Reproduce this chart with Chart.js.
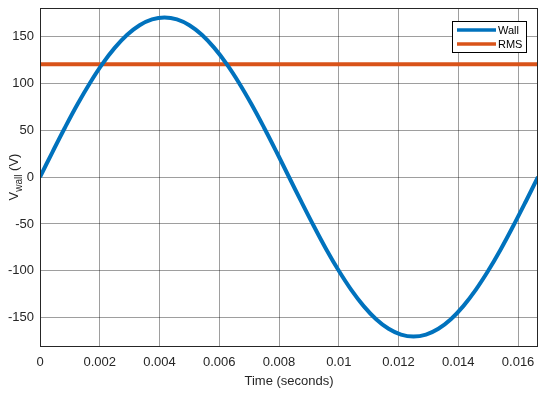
<!DOCTYPE html>
<html>
<head>
<meta charset="utf-8">
<script src="https://cdn.jsdelivr.net/npm/chart.js@4.4.0/dist/chart.umd.min.js"></script>
<style>
  html, body { margin: 0; padding: 0; background: #fff; }
  #wrap { width: 553px; height: 396px; }
</style>
</head>
<body>
<div id="wrap"><canvas id="myChart"></canvas></div>
<script>
// time samples (seconds) and wall voltage
var times = [0, 0.000417, 0.000833, 0.00125, 0.001667, 0.002083, 0.0025, 0.002917, 0.003333, 0.00375,
  0.004167, 0.004583, 0.005, 0.005417, 0.005833, 0.00625, 0.006667, 0.007083, 0.0075, 0.007917,
  0.008333, 0.00875, 0.009167, 0.009583, 0.01, 0.010417, 0.010833, 0.01125, 0.011667, 0.012083,
  0.0125, 0.012917, 0.013333, 0.01375, 0.014167, 0.014583, 0.015, 0.015417, 0.015833, 0.01625, 0.016667];
var wall = [0, 26.6, 52.5, 77.2, 99.9, 120.2, 137.5, 151.5, 161.7, 167.9,
  170, 167.9, 161.7, 151.5, 137.5, 120.2, 99.9, 77.2, 52.5, 26.6,
  0, -26.6, -52.5, -77.2, -99.9, -120.2, -137.5, -151.5, -161.7, -167.9,
  -170, -167.9, -161.7, -151.5, -137.5, -120.2, -99.9, -77.2, -52.5, -26.6, 0];
var rmsTimes = [0, 0.016667];
var rms = [120, 120];

var xTicks = [0, 0.002, 0.004, 0.006, 0.008, 0.01, 0.012, 0.014, 0.016];
var yTicks = [-150, -100, -50, 0, 50, 100, 150];

var blue = '#0072BD';
var orange = '#D95319';
var textColor = '#262626';
var fontFamily = '"Liberation Sans", Arial, Helvetica, sans-serif';

function pts(xs, ys) {
  var out = [];
  for (var i = 0; i < xs.length; i++) out.push({ x: xs[i], y: ys[i] });
  return out;
}

// box around the axes, the legend and the subscripted y label
var extras = {
  id: 'extras',
  afterDraw: function(chart) {
    var ctx = chart.ctx;
    var a = chart.chartArea;
    ctx.save();
    ctx.strokeStyle = textColor;
    ctx.lineWidth = 1;
    ctx.strokeRect(Math.round(a.left) + 0.5, Math.round(a.top) + 0.5,
      Math.round(a.right - a.left) - 1, Math.round(a.bottom - a.top));

    // legend
    var lx = 452, ly = 21, lw = 74, lh = 31;
    ctx.fillStyle = '#fff';
    ctx.fillRect(lx, ly, lw, lh);
    ctx.strokeStyle = '#000';
    ctx.strokeRect(lx + 0.5, ly + 0.5, lw, lh);
    var items = [['Wall', blue, ly + 9], ['RMS', orange, ly + 23]];
    ctx.font = '11px ' + fontFamily;
    ctx.textBaseline = 'middle';
    ctx.textAlign = 'left';
    items.forEach(function(it) {
      ctx.strokeStyle = it[1];
      ctx.lineWidth = 3.5;
      ctx.beginPath();
      ctx.moveTo(lx + 5, it[2]);
      ctx.lineTo(lx + 44, it[2]);
      ctx.stroke();
      ctx.fillStyle = '#000';
      ctx.fillText(it[0], lx + 46, it[2] + 0.5);
    });

    // y axis title: V_wall (V)
    ctx.translate(14, (a.top + a.bottom) / 2);
    ctx.rotate(-Math.PI / 2);
    ctx.fillStyle = textColor;
    ctx.textBaseline = 'alphabetic';
    ctx.font = '13px ' + fontFamily;
    var w1 = ctx.measureText('V').width;
    ctx.font = '10px ' + fontFamily;
    var w2 = ctx.measureText('wall').width;
    ctx.font = '13px ' + fontFamily;
    var w3 = ctx.measureText(' (V)').width;
    var x0 = -(w1 + w2 + w3) / 2;
    ctx.fillText('V', x0, 4);
    ctx.font = '10px ' + fontFamily;
    ctx.fillText('wall', x0 + w1, 8);
    ctx.font = '13px ' + fontFamily;
    ctx.fillText(' (V)', x0 + w1 + w2, 4);
    ctx.restore();
  }
};

var ctx = document.getElementById('myChart').getContext('2d');
var chart = new Chart(ctx, {
  type: 'line',
  data: {
    datasets: [
      {
        label: 'Wall',
        data: pts(times, wall),
        borderColor: blue,
        backgroundColor: 'transparent',
        borderWidth: 4,
        pointRadius: 0,
        tension: 0.4
      },
      {
        label: 'RMS',
        data: pts(rmsTimes, rms),
        borderColor: orange,
        backgroundColor: 'transparent',
        borderWidth: 4,
        pointRadius: 0
      }
    ]
  },
  options: {
    responsive: true,
    maintainAspectRatio: false,
    animation: false,
    devicePixelRatio: 1,
    layout: { padding: { top: 8, right: 15, left: 0, bottom: 0 } },
    plugins: {
      legend: { display: false },
      tooltip: { enabled: false }
    },
    scales: {
      x: {
        type: 'linear',
        min: 0,
        max: 0.016667,
        afterBuildTicks: function(axis) {
          axis.ticks = xTicks.map(function(v) { return { value: v }; });
        },
        afterFit: function(axis) {
          axis.height = 50;
          axis.paddingLeft = 0;
          axis.paddingRight = 0;
        },
        ticks: {
          color: textColor,
          font: { family: fontFamily, size: 13 },
          padding: 9,
          maxRotation: 0,
          callback: function(v) { return String(v); }
        },
        grid: { color: 'rgba(0,0,0,0.38)', drawTicks: false },
        border: { display: false },
        title: {
          display: true,
          text: 'Time (seconds)',
          color: textColor,
          font: { family: fontFamily, size: 13 },
          padding: { top: 2, bottom: 7 }
        }
      },
      y: {
        min: -180,
        max: 180,
        afterBuildTicks: function(axis) {
          axis.ticks = yTicks.map(function(v) { return { value: v }; });
        },
        afterFit: function(axis) {
          axis.width = 40;
          axis.paddingTop = 0;
          axis.paddingBottom = 0;
        },
        ticks: {
          color: textColor,
          font: { family: fontFamily, size: 13 },
          padding: 6
        },
        grid: { color: 'rgba(0,0,0,0.38)', drawTicks: false },
        border: { display: false }
      }
    }
  },
  plugins: [extras]
});
</script>
</body>
</html>
